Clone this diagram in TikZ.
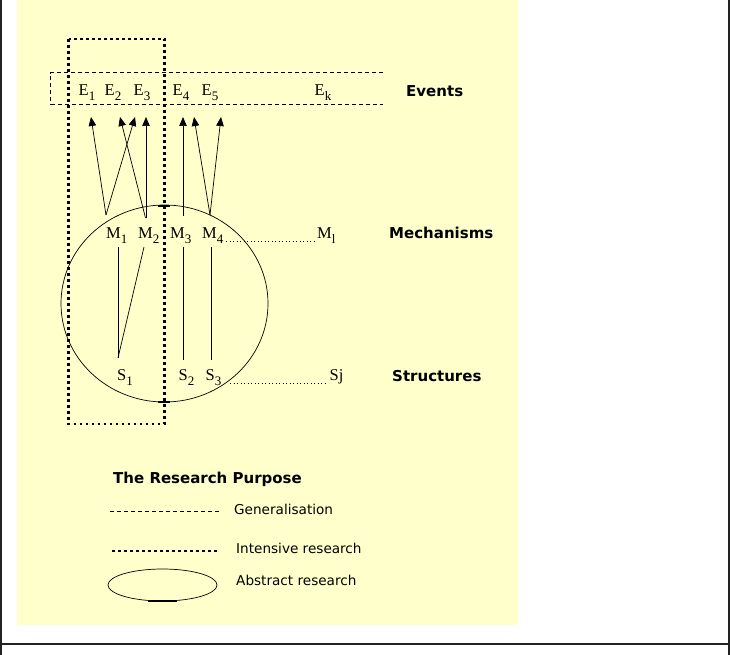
\documentclass[tikz,border=0pt]{standalone}
\usepackage{fontspec}
\setmainfont{Liberation Serif}
\newfontfamily\labfont{DejaVu Sans}
\usetikzlibrary{arrows.meta}
\definecolor{paper}{HTML}{FFFFCC}
\definecolor{framec}{HTML}{222222}
\tikzset{
  sym/.style={font=\fontsize{16.5}{16.5}\selectfont, anchor=base west, inner sep=0pt},
  head/.style={font=\labfont\bfseries\fontsize{15}{15}\selectfont, anchor=base west, inner sep=0pt},
  legtext/.style={font=\labfont\fontsize{13.6}{14}\selectfont, anchor=base west, inner sep=0pt},
  conn/.style={line width=0.7pt},
  arr/.style={conn, -{Triangle[length=9pt,width=7.5pt]}},
  intensive/.style={line width=2.6pt, dash pattern=on 2.6pt off 3.4pt},
  general/.style={line width=0.8pt, dash pattern=on 4pt off 3pt},
  link/.style={line width=0.6pt, dash pattern=on 1.2pt off 2.3pt},
}
\newcommand{\subx}[1]{\raisebox{-0.3em}{\fontsize{13}{13}\selectfont #1}}
\begin{document}
\begin{tikzpicture}[x=1pt,y=-1pt]
\useasboundingbox (0,0) rectangle (730,655);
\fill[white] (0,0) rectangle (730,655);
\fill[paper] (17,0) rectangle (518,625);
% frame
\draw[framec, line width=2pt] (1,0) -- (1,655);
\draw[framec, line width=2pt] (729,0) -- (729,655);
\draw[framec, line width=2pt] (0,644) -- (730,644);

% abstract research ellipse
\draw[line width=0.7pt] (164.5,303.5) ellipse [x radius=103.5, y radius=98.5];
\draw[line width=2pt] (158,205.5) -- (170,205.5);
\draw[line width=2pt] (158,401.5) -- (170,401.5);

% intensive research box
\draw[intensive] (68.5,39) rectangle (164.5,424);

% generalisation band
\draw[general] (383,72.7) -- (50.7,72.7) -- (50.7,104.5) -- (383,104.5);

% events
\node[sym] (e1) at (78.5,95.5) {E\subx{1}};
\node[sym] (e2) at (104.5,95.5) {E\subx{2}};
\node[sym] (e3) at (133.5,95.5) {E\subx{3}};
\node[sym] (e4) at (172.5,95.5) {E\subx{4}};
\node[sym] (e5) at (201.5,95.5) {E\subx{5}};
\node[sym] (ek) at (314.5,95.5) {E\subx{k}};
\node[head] (events) at (406,97) {Events};

% mechanisms
\node[sym] (m1) at (106,238.5) {M\subx{1}};
\node[sym] (m2) at (138,238.5) {M\subx{2}};
\node[sym] (m3) at (170,238.5) {M\subx{3}};
\node[sym] (m4) at (202,238.5) {M\subx{4}};
\node[sym] (ml) at (317,238.5) {M\subx{l}};
\node[head] (mech) at (389,238.5) {Mechanisms};

% structures
\node[sym] (s1) at (117,380.5) {S\subx{1}};
\node[sym] (s2) at (178.5,380.5) {S\subx{2}};
\node[sym] (s3) at (205.5,380.5) {S\subx{3}};
\node[sym] (sj) at (329.5,380.5) {Sj};
\node[head] (struct) at (392,381) {Structures};

% arrow coordinates
\coordinate (t1) at (91,117);
\coordinate (t2) at (120,117);
\coordinate (t3) at (135,117);
\coordinate (t4) at (146,117);
\coordinate (t5) at (183,117);
\coordinate (t6) at (194,117);
\coordinate (t7) at (221,117);
\coordinate (p1) at (106,215);
\coordinate (p2) at (145.5,218);
\coordinate (p2b) at (146,218);
\coordinate (p3) at (183,216);
\coordinate (p4) at (210,215);

\draw[arr] (p1) -- (t1);
\draw[arr] (p1) -- (t3);
\draw[arr] (p2) -- (t2);
\draw[arr] (p2b) -- (t4);
\draw[arr] (p3) -- (t5);
\draw[arr] (p4) -- (t6);
\draw[arr] (p4) -- (t7);

% structure-mechanism lines
\coordinate (q1) at (118,247);
\coordinate (q2) at (144,247);
\coordinate (q3) at (183,247);
\coordinate (q4) at (211,247);
\coordinate (r1) at (118,358);
\coordinate (r3) at (183,360);
\coordinate (r4) at (211,360);
\draw[conn] (q1) -- (r1);
\draw[conn] (q2) -- (r1);
\draw[conn] (q3) -- (r3);
\draw[conn] (q4) -- (r4);

% dotted links
\coordinate (lm) at (226,241);
\coordinate (lm2) at (315,241);
\coordinate (ls) at (230,383);
\coordinate (ls2) at (327,383);
\draw[link] (lm) -- (lm2);
\draw[link] (ls) -- (ls2);

% legend
\node[head] (title) at (113,483) {The Research Purpose};
\coordinate (g1) at (110,511);
\coordinate (g2) at (219,511);
\draw[general] (g1) -- (g2);
\node[legtext] (gen) at (234,514) {Generalisation};
\coordinate (i1) at (112,551);
\coordinate (i2) at (219,551);
\draw[intensive] (i1) -- (i2);
\node[legtext] (int) at (236,553) {Intensive research};
\draw[line width=0.7pt] (162.5,585) ellipse [x radius=54.5, y radius=16];
\draw[line width=2pt] (148,600.5) -- (177,600.5);
\node[legtext] (abs) at (236,585) {Abstract research};
\end{tikzpicture}
\end{document}
